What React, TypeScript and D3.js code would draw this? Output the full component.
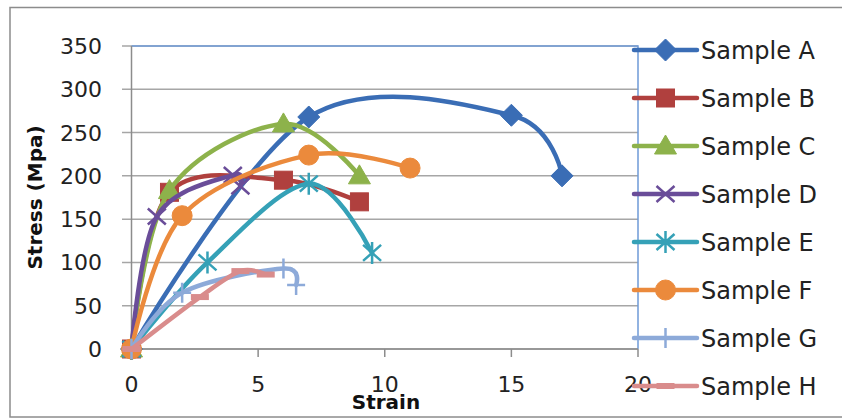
import React from "react";
import * as d3 from "d3";

const seriesNames = ["Sample A", "Sample B", "Sample C", "Sample D", "Sample E", "Sample F", "Sample G", "Sample H"];
const strainA = [0, 7, 15, 17];
const stressA = [0, 268, 270, 200];
const strainB = [0, 1.5, 6, 9];
const stressB = [0, 181, 195, 170];
const strainC = [0, 1.5, 6, 9];
const stressC = [0, 183, 260, 200];
const strainD = [0, 1, 4, 4.3];
const stressD = [0, 153, 201, 188];
const strainE = [0, 3, 7, 9.5];
const stressE = [0, 100, 191, 111];
const strainF = [0, 2, 7, 11];
const stressF = [0, 154, 224, 209];
const strainG = [0, 2, 6, 6.5];
const stressG = [0, 65, 93, 74];
const strainH = [0, 2.7, 4.3, 5.3];
const stressH = [0, 60, 90, 86];
const xTicks = [0, 5, 10, 15, 20];
const yTicks = [0, 50, 100, 150, 200, 250, 300, 350];

const colors = ["#3A6DB5", "#B0403E", "#8DB24B", "#6A4D99", "#35A1B7", "#EB8A3C", "#8DAAD9", "#D98C8C"];
const shapes = ["diamond", "square", "triangle", "x", "star", "circle", "plus", "dash"];

const allStrain = [strainA, strainB, strainC, strainD, strainE, strainF, strainG, strainH];
const allStress = [stressA, stressB, stressC, stressD, stressE, stressF, stressG, stressH];

const FONT = "DejaVu Sans";

function Marker({ shape, cx, cy, color }: { shape: string; cx: number; cy: number; color: string }) {
  switch (shape) {
    case "diamond":
      return <path d={`M${cx},${cy - 11}L${cx + 11},${cy}L${cx},${cy + 11}L${cx - 11},${cy}Z`} fill={color} stroke={color} strokeWidth={1} />;
    case "square":
      return <rect x={cx - 9} y={cy - 9} width={18} height={18} fill={color} stroke={color} strokeWidth={1} />;
    case "triangle":
      return <path d={`M${cx},${cy - 11}L${cx + 11},${cy + 8}L${cx - 11},${cy + 8}Z`} fill={color} stroke={color} strokeWidth={1} />;
    case "x":
      return (
        <path d={`M${cx - 9},${cy - 8}L${cx + 9},${cy + 8}M${cx - 9},${cy + 8}L${cx + 9},${cy - 8}`} stroke={color} strokeWidth={2.5} fill="none" />
      );
    case "star":
      return (
        <path
          d={`M${cx - 9},${cy - 8}L${cx + 9},${cy + 8}M${cx - 9},${cy + 8}L${cx + 9},${cy - 8}M${cx},${cy - 11}L${cx},${cy + 11}`}
          stroke={color}
          strokeWidth={2.5}
          fill="none"
        />
      );
    case "circle":
      return <circle cx={cx} cy={cy} r={10} fill={color} stroke={color} strokeWidth={1} />;
    case "plus":
      return <path d={`M${cx - 9},${cy}L${cx + 9},${cy}M${cx},${cy - 10}L${cx},${cy + 10}`} stroke={color} strokeWidth={2.5} fill="none" />;
    case "dash":
      return <rect x={cx - 9} y={cy - 3} width={18} height={6} fill={color} />;
    default:
      return null;
  }
}

export default function App() {
  const W = 842;
  const H = 419;
  const x = d3.scaleLinear().domain([0, 20]).range([131.5, 638]);
  const y = d3.scaleLinear().domain([0, 350]).range([349, 46]);
  const line = d3
    .line<[number, number]>()
    .x((d) => x(d[0]))
    .y((d) => y(d[1]))
    .curve(d3.curveCatmullRom.alpha(0));

  const legendX0 = 634;
  const legendX1 = 697;
  const legendY0 = 50;
  const legendStep = 48;

  return (
    <svg width={W} height={H} style={{ position: "absolute", left: 0, top: 0, background: "#fff" }}>
      <rect x={0} y={0} width={W} height={H} fill="#fff" />
      <rect x={10} y={7.5} width={850} height={409.5} fill="none" stroke="#8c8c8c" strokeWidth={1.5} />
      {/* gridlines */}
      {yTicks.map((t) => (
        <line key={"g" + t} x1={122} x2={x(20)} y1={y(t)} y2={y(t)} stroke="#a6a6a6" strokeWidth={1.5} />
      ))}
      {/* plot border top/right */}
      <path d={`M${x(0)},${y(350)}L${x(20)},${y(350)}L${x(20)},${y(0)}`} fill="none" stroke="#6f9bd8" strokeWidth={1.5} />
      {/* axes */}
      <line x1={x(0)} x2={x(0)} y1={y(350)} y2={y(0)} stroke="#8c8c8c" strokeWidth={1.5} />
      <line x1={x(0)} x2={x(20)} y1={y(0)} y2={y(0)} stroke="#8c8c8c" strokeWidth={1.5} />
      {xTicks.map((t) => (
        <line key={"xt" + t} x1={x(t)} x2={x(t)} y1={y(0)} y2={y(0) + 8} stroke="#8c8c8c" strokeWidth={1.5} />
      ))}
      {yTicks.map((t) => (
        <text key={"yl" + t} x={102} y={y(t) + 8} textAnchor="end" fontFamily={FONT} fontSize={22} fill="#222">
          {t}
        </text>
      ))}
      {xTicks.map((t) => (
        <text key={"xl" + t} x={x(t)} y={392} textAnchor="middle" fontFamily={FONT} fontSize={22} fill="#222">
          {t}
        </text>
      ))}
      <text x={386} y={409} textAnchor="middle" fontFamily={FONT} fontSize={20} fontWeight="bold" fill="#111">
        Strain
      </text>
      <text
        transform={`translate(42,${(y(0) + y(350)) / 2}) rotate(-90)`}
        textAnchor="middle"
        fontFamily={FONT}
        fontSize={20}
        fontWeight="bold"
        fill="#111"
      >
        Stress (Mpa)
      </text>
      {/* series */}
      {seriesNames.map((name, i) => {
        const pts: [number, number][] = allStrain[i].map((s, j) => [s, allStress[i][j]]);
        return (
          <g key={name}>
            <path d={line(pts) || ""} fill="none" stroke={colors[i]} strokeWidth={4.5} strokeLinejoin="round" strokeLinecap="round" />
            {pts.map((p, j) => (
              <Marker key={j} shape={shapes[i]} cx={x(p[0])} cy={y(p[1])} color={colors[i]} />
            ))}
          </g>
        );
      })}
      {/* legend */}
      {seriesNames.map((name, i) => {
        const ly = legendY0 + i * legendStep;
        return (
          <g key={"lg" + name}>
            <line x1={legendX0} x2={legendX1} y1={ly} y2={ly} stroke={colors[i]} strokeWidth={4.5} strokeLinecap="round" />
            <Marker shape={shapes[i]} cx={(legendX0 + legendX1) / 2} cy={ly} color={colors[i]} />
            <text x={701} y={ly + 9} fontFamily={FONT} fontSize={24} fill="#222">
              {name}
            </text>
          </g>
        );
      })}
    </svg>
  );
}
